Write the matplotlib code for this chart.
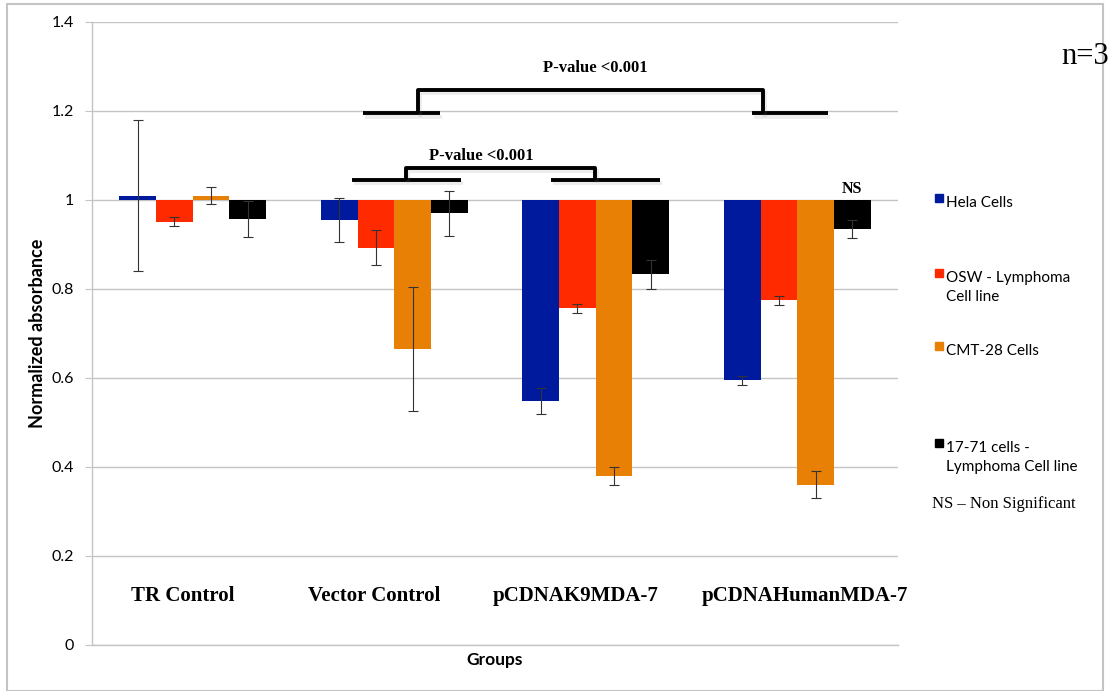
import numpy as np
import matplotlib.pyplot as plt
import matplotlib.patheffects as pe
from matplotlib.patches import Rectangle

groups = ["TR Control", "Vector Control", "pCDNAK9MDA-7", "pCDNAHumanMDA-7"]
series = ["Hela Cells", "OSW - Lymphoma\nCell line", "CMT-28 Cells", "17-71 cells -\nLymphoma Cell line"]
colors = ["#001a9e", "#ff2a00", "#e88006", "#000000"]

# mean normalized absorbance, one list per cell line (order = groups)
hela = [1.01, 0.955, 0.548, 0.595]
osw = [0.951, 0.893, 0.757, 0.775]
cmt = [1.01, 0.665, 0.380, 0.360]
c1771 = [0.957, 0.970, 0.833, 0.935]

hela_err = [0.17, 0.05, 0.03, 0.01]
osw_err = [0.01, 0.04, 0.01, 0.01]
cmt_err = [0.02, 0.14, 0.02, 0.03]
c1771_err = [0.04, 0.05, 0.033, 0.02]

values = [hela, osw, cmt, c1771]
errors = [hela_err, osw_err, cmt_err, c1771_err]

serif = "Liberation Serif"
sans = "Lato"

fig = plt.figure(figsize=(11.16, 6.91), dpi=100)
ax = fig.add_axes([0.0824, 0.0666, 0.7222, 0.9016])

x = np.arange(len(groups))
w = 0.182
for i in range(4):
    pos = x + (i - 1.5) * w
    v = np.array(values[i])
    ax.bar(pos, v - 1, bottom=1, width=w, color=colors[i], zorder=2)
    ax.errorbar(pos, v, yerr=errors[i], fmt='none', ecolor='#333333',
                elinewidth=0.8, capsize=3.5, capthick=0.8, zorder=3)

ax.set_xlim(-0.5, 3.5)
ax.set_ylim(0, 1.4)
ax.set_yticks(np.arange(0, 1.41, 0.2))
ax.set_yticklabels(["0", "0.2", "0.4", "0.6", "0.8", "1", "1.2", "1.4"],
                   fontsize=11.5, family=sans)
ax.set_xticks([])
ax.yaxis.grid(True, color='#c4c4c4', lw=1)
ax.set_axisbelow(True)
for s in ['top', 'right']:
    ax.spines[s].set_visible(False)
for s in ['left', 'bottom']:
    ax.spines[s].set_color('#c4c4c4')
    ax.spines[s].set_linewidth(1)
ax.tick_params(axis='y', length=5, color='#c4c4c4', pad=8)

ax.set_ylabel("Normalized absorbance", fontsize=13, fontweight='bold',
              family=sans, labelpad=4)
ax.set_xlabel("Groups", fontsize=12.5, fontweight='bold', family=sans, labelpad=5)

# group names written inside the plot
label_shift = [-0.05, -0.10, -0.10, 0.04]
for i, g in enumerate(groups):
    ax.text(x[i] + label_shift[i], 0.11, g, ha='center', va='center',
            fontsize=15, fontweight='bold', family=serif)

# significance brackets
def bracket(l0, l1, r0, r1, a, b, ylow, yhigh, label, ytext, xtext):
    kw = dict(color='black', lw=2.8, solid_capstyle='butt', zorder=4,
              path_effects=[pe.SimpleLineShadow(offset=(1.5, -2.5), shadow_color='gray', alpha=0.15),
                            pe.Normal()])
    ax.plot([l0, l1], [ylow, ylow], **kw)
    ax.plot([r0, r1], [ylow, ylow], **kw)
    ax.plot([a, a, b, b], [ylow, yhigh, yhigh, ylow], **kw)
    ax.text(xtext, ytext, label, ha='center', va='center', fontsize=12,
            fontweight='bold', family=serif)

bracket(0.845, 1.227, 2.775, 3.153, 1.118, 2.83, 1.195, 1.248,
        "P-value <0.001", 1.297, 2.0)
bracket(0.79, 1.33, 1.78, 2.32, 1.058, 1.996, 1.045, 1.072,
        "P-value <0.001", 1.099, 1.43)

ax.text(3 + 1.5 * w, 1.025, "NS", ha='center', va='center', fontsize=11.5,
        fontweight='bold', family=serif)

# legend placed by hand (first-line centre of each entry)
leg_y = [0.709, 0.6006, 0.4949, 0.3546]
for i in range(4):
    fig.patches.append(Rectangle((0.8378, leg_y[i] - 0.0015), 0.0072, 0.0116,
                                 transform=fig.transFigure, color=colors[i]))
    fig.text(0.848, leg_y[i] + 0.0075, series[i], ha='left', va='top',
             fontsize=11, family=sans, linespacing=1.5)

fig.text(0.835, 0.271, "NS \u2013 Non Significant", ha='left', va='center',
         fontsize=12, family=serif)
fig.text(0.951, 0.918, "n=3", ha='left', va='center', fontsize=22, family=serif)

# outer frame
fig.patches.append(Rectangle((0.0063, 0.0), 0.9821, 0.994, transform=fig.transFigure,
                             fill=False, edgecolor='#c4c4c4', lw=1.5))

fig.savefig("out.png", dpi=100)
